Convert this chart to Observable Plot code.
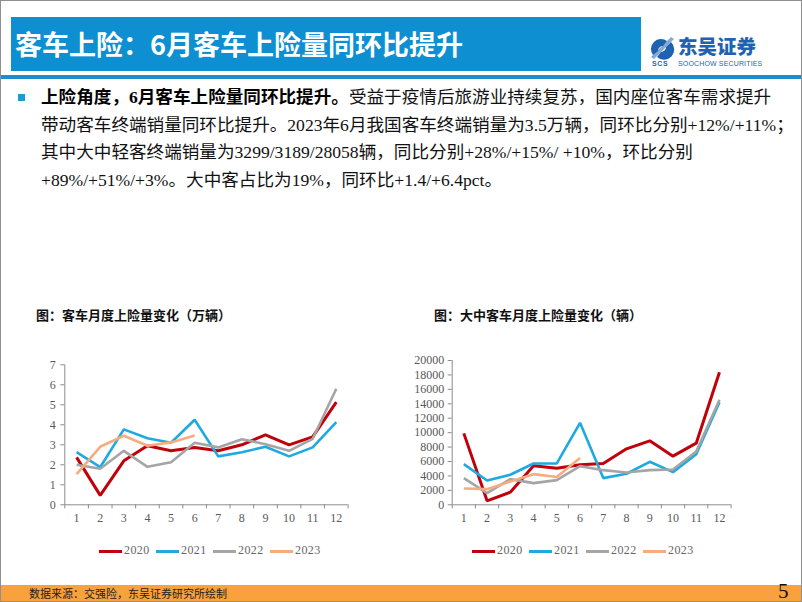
<!DOCTYPE html>
<html><head><meta charset="utf-8">
<script src="https://cdn.jsdelivr.net/npm/d3@7"></script>
<script src="https://cdn.jsdelivr.net/npm/@observablehq/plot@0.6"></script>
<style>
body{margin:0;background:#fff;}
#slide{position:relative;width:802px;height:602px;box-sizing:border-box;border:1px solid #8f8f8f;overflow:hidden;background:#fff;font-family:"Noto Sans CJK SC","Noto Sans",sans-serif;}
.abs{position:absolute;}
#hdr{left:10px;top:16px;width:630px;height:54px;background:#0e8fd2;}
#hdrTitle{left:14px;top:16px;height:53px;line-height:53px;color:#fff;font-weight:700;font-size:27px;white-space:nowrap;}
#hline{left:0;top:74px;width:802px;height:4px;background:#1a8ed0;}
#bullet{left:17px;top:93px;width:7px;height:7px;background:#1b9ad6;}
#body{left:40px;top:83px;font-size:17.6px;line-height:27.5px;color:#111;font-family:"Liberation Serif","Noto Sans CJK SC",serif;white-space:nowrap;}
#body b{font-weight:700;color:#000;}
.ctitle{top:304px;font-size:13px;font-weight:700;color:#111;white-space:nowrap;}
.legend{top:543px;height:14px;white-space:nowrap;}
.li{position:absolute;top:0;height:14px;}
.sw{position:absolute;left:0;top:6px;width:23px;height:3px;}
.lt{position:absolute;left:25px;top:-1px;font-family:"Liberation Serif",serif;font-size:12px;color:#666;letter-spacing:0.4px;}
#footer{left:0;top:584px;width:802px;height:18px;background:#f9a13a;}
#ftext{left:28px;top:584px;height:17px;line-height:17px;font-size:11px;color:#222;white-space:nowrap;}
#pnum{left:777px;top:578px;font-family:"Liberation Serif",serif;font-size:21px;color:#111;}
#logoText{left:677px;top:35px;height:20px;line-height:20px;font-size:19.5px;font-weight:900;color:#1f63b0;white-space:nowrap;}
#logoSub{left:677px;top:58.5px;height:7px;line-height:7px;font-family:"Liberation Sans",sans-serif;font-size:7px;color:#1f63b0;white-space:nowrap;letter-spacing:0.15px;}
</style></head><body>
<div id="slide">
  <div class="abs" id="hdr"></div>
  <div class="abs" id="hdrTitle">客车上险：6月客车上险量同环比提升</div>
  <svg class="abs" style="left:648px;top:36px" width="28" height="30" viewBox="0 0 28 30">
    <path d="M4 18 A10 10 0 0 1 18 4 L14 9 A5 5 0 0 0 9 14 Z" fill="#1f63b0"/>
    <path d="M22 5 A10 10 0 0 1 8 20 L12 15 A5 5 0 0 0 17 10 Z" fill="#1f63b0"/>
    <path d="M2 20 L22 0 L25 2 L5 22 Z" fill="#1f63b0" opacity="0.55"/>
    <text x="3" y="29" font-family="Liberation Sans" font-weight="700" font-size="7" fill="#1f63b0" letter-spacing="0.6">SCS</text>
  </svg>
  <div class="abs" id="logoText">东吴证券</div>
  <div class="abs" id="logoSub">SOOCHOW SECURITIES</div>
  <div class="abs" id="hline"></div>
  <div class="abs" id="bullet"></div>
  <div class="abs" id="body">
    <div><b>上险角度，6月客车上险量同环比提升。</b>受益于疫情后旅游业持续复苏，国内座位客车需求提升</div>
    <div>带动客车终端销量同环比提升。2023年6月我国客车终端销量为3.5万辆，同环比分别+12%/+11%；</div>
    <div>其中大中轻客终端销量为3299/3189/28058辆，同比分别+28%/+15%/ +10%，环比分别</div>
    <div>+89%/+51%/+3%。大中客占比为19%，同环比+1.4/+6.4pct。</div>
  </div>
  <div class="abs ctitle" style="left:35px">图：客车月度上险量变化（万辆）</div>
  <div class="abs ctitle" style="left:433px">图：大中客车月度上险量变化（辆）</div>
  <div class="abs" id="chart1" style="left:20px;top:345px"></div>
  <div class="abs" id="chart2" style="left:395px;top:345px"></div>
  <div class="abs legend" id="legend1" style="left:98px"></div>
  <div class="abs legend" id="legend2" style="left:471px"></div>
  <div class="abs" id="footer"></div>
  <div class="abs" id="ftext">数据来源：交强险，东吴证券研究所绘制</div>
  <div class="abs" id="pnum">5</div>
</div>
<script>
const months = [1,2,3,4,5,6,7,8,9,10,11,12];
const years = ["2020","2021","2022","2023"];
const colors = ["#c0000b","#1fa9e1","#a5a5a5","#f5ad80"];
const widths = [3,2.6,2.6,2.6];

// 客车月度上险量（万辆）
const total2020 = [2.37,0.47,2.2,2.95,2.7,2.87,2.7,3.0,3.5,3.0,3.4,5.13];
const total2021 = [2.63,1.88,3.77,3.33,3.1,4.25,2.42,2.63,2.9,2.42,2.87,4.13];
const total2022 = [2.0,1.8,2.7,1.9,2.13,3.1,2.87,3.28,3.03,2.7,3.3,5.8];
const total2023 = [1.53,2.9,3.45,2.95,3.12,3.47];
const totalTicks = [0,1,2,3,4,5,6,7];

// 大中客车月度上险量（辆）
const big2020 = [9900,550,1750,5400,5080,5540,5730,7760,8870,6740,8540,18380];
const big2021 = [5640,3370,4160,5730,5730,11360,3700,4300,5960,4530,7020,14230];
const big2022 = [3700,1620,3560,3000,3420,5360,4800,4480,4800,4900,7390,14550];
const big2023 = [2260,2170,3230,4250,3860,6488];
const bigTicks = [0,2000,4000,6000,8000,10000,12000,14000,16000,18000,20000];

const axisColor = "#8c8c8c";
const boundaries = d3.range(0.5, 13, 1);

function makeChart(seriesList, ticks, dims) {
  const marks = [
    Plot.ruleY([ticks[0]], {stroke: axisColor, strokeWidth: 1}),
    Plot.ruleX([0.5], {stroke: axisColor, strokeWidth: 1}),
    Plot.axisY(ticks, {tickSize: 4, tickPadding: dims.yPad, stroke: axisColor, fill: "#595959",
      fontSize: 12, fontFamily: "Liberation Serif", label: null, tickFormat: d => String(d)}),
    Plot.axisX(boundaries, {tickSize: 4, stroke: axisColor, tickFormat: () => "", label: null}),
    Plot.axisX(months, {tickSize: 0, tickPadding: 9, fill: "#595959", fontSize: 12,
      fontFamily: "Liberation Serif", label: null, tickFormat: d => String(d)})
  ];
  seriesList.forEach((vals, i) => {
    const rows = vals.map((v, j) => ({month: months[j], year: years[i], value: v}));
    marks.push(Plot.line(rows, {x: "month", y: "value", stroke: colors[i], strokeWidth: widths[i],
      strokeLinejoin: "miter", strokeLinecap: "butt"}));
  });
  return Plot.plot({
    width: dims.width, height: dims.height,
    marginLeft: dims.ml, marginRight: dims.mr, marginTop: dims.mt, marginBottom: dims.mb,
    x: {type: "linear", domain: [0.5, 12.5], axis: null},
    y: {type: "linear", domain: [ticks[0], ticks[ticks.length - 1]], axis: null},
    style: {background: "transparent", overflow: "visible"},
    marks
  });
}

document.getElementById("chart1").appendChild(makeChart(
  [total2020, total2021, total2022, total2023], totalTicks,
  {width: 340, height: 190, ml: 43.3, mr: 13.4, mt: 18.3, mb: 31.7, yPad: 5}));
document.getElementById("chart2").appendChild(makeChart(
  [big2020, big2021, big2022, big2023], bigTicks,
  {width: 350, height: 190, ml: 55.7, mr: 15.4, mt: 14, mb: 31.7, yPad: 4}));

function makeLegend(id) {
  const el = document.getElementById(id);
  years.forEach((y, i) => {
    const item = document.createElement("div");
    item.className = "li";
    item.style.left = (i * 57) + "px";
    item.innerHTML = `<div class="sw" style="background:${colors[i]}"></div><div class="lt">${y}</div>`;
    el.appendChild(item);
  });
}
makeLegend("legend1");
makeLegend("legend2");
</script>
</body></html>
